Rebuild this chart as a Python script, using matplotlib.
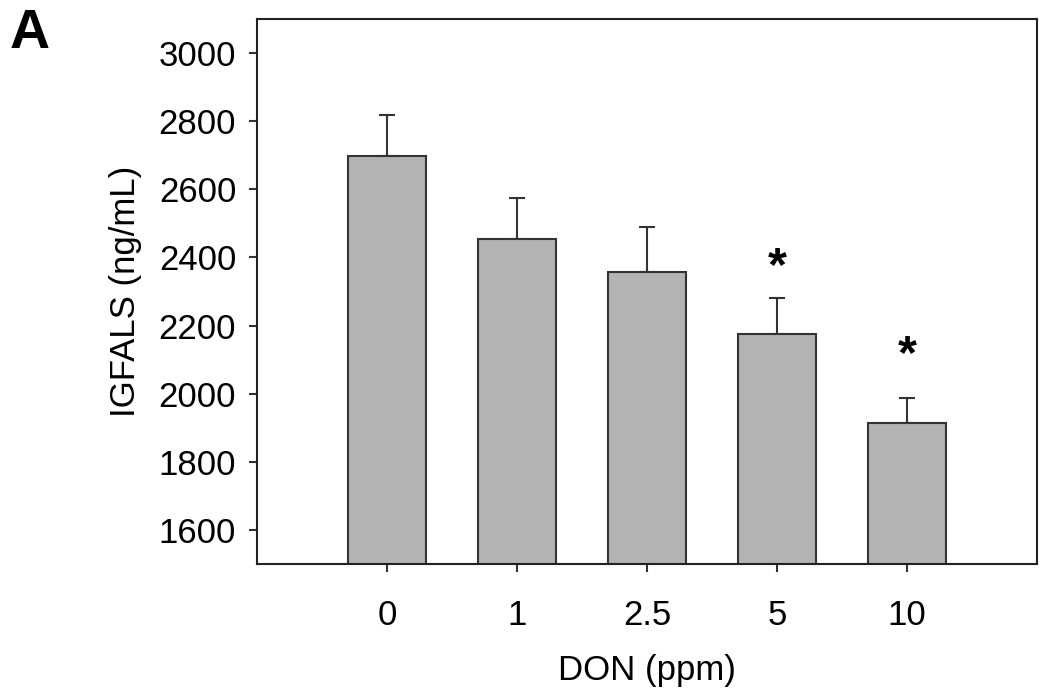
import matplotlib.pyplot as plt
import numpy as np

plt.rcParams['font.family'] = ['Liberation Sans', 'DejaVu Sans']

doses = ['0', '1', '2.5', '5', '10']
igfals = [2698, 2454, 2356, 2174, 1913]
sem = [119, 120, 134, 107, 74]
# significance marks: (bar index, height of star)
stars = [(3, 2370), (4, 2113)]

fig = plt.figure(figsize=(10.5, 6.9), dpi=100)
ax = fig.add_axes([0.2448, 0.1826, 0.7428, 0.7899])

x = np.arange(len(doses))
ax.bar(x, igfals, width=0.6, color='#b3b3b3', edgecolor='#333333', linewidth=1.5, zorder=2)
ax.errorbar(x, igfals, yerr=[np.zeros(len(sem)), sem], fmt='none', ecolor='#333333',
            elinewidth=1.5, capsize=5.5, capthick=1.5, zorder=1)

for i, h in stars:
    ax.text(x[i], h, '*', ha='center', va='center', fontsize=35, fontweight='bold')

ax.set_xlim(-1, 5)
ax.set_ylim(1500, 3100)
ax.set_xticks(x)
ax.set_xticklabels(doses)
ax.set_yticks(np.arange(1600, 3001, 200))
ax.tick_params(axis='both', direction='out', length=6, width=1.5, labelsize=25, color='#333333')
ax.tick_params(axis='x', pad=19)
ax.tick_params(axis='y', pad=9)
for sp in ax.spines.values():
    sp.set_linewidth(1.5)
    sp.set_color('#222222')

ax.set_xlabel('DON (ppm)', fontsize=25, labelpad=16)
ax.set_ylabel('IGFALS (ng/mL)', fontsize=25, labelpad=12)

fig.text(0.009, 0.93, 'A', fontsize=40, fontweight='bold', ha='left', va='baseline')

fig.savefig('out.png', dpi=100)
